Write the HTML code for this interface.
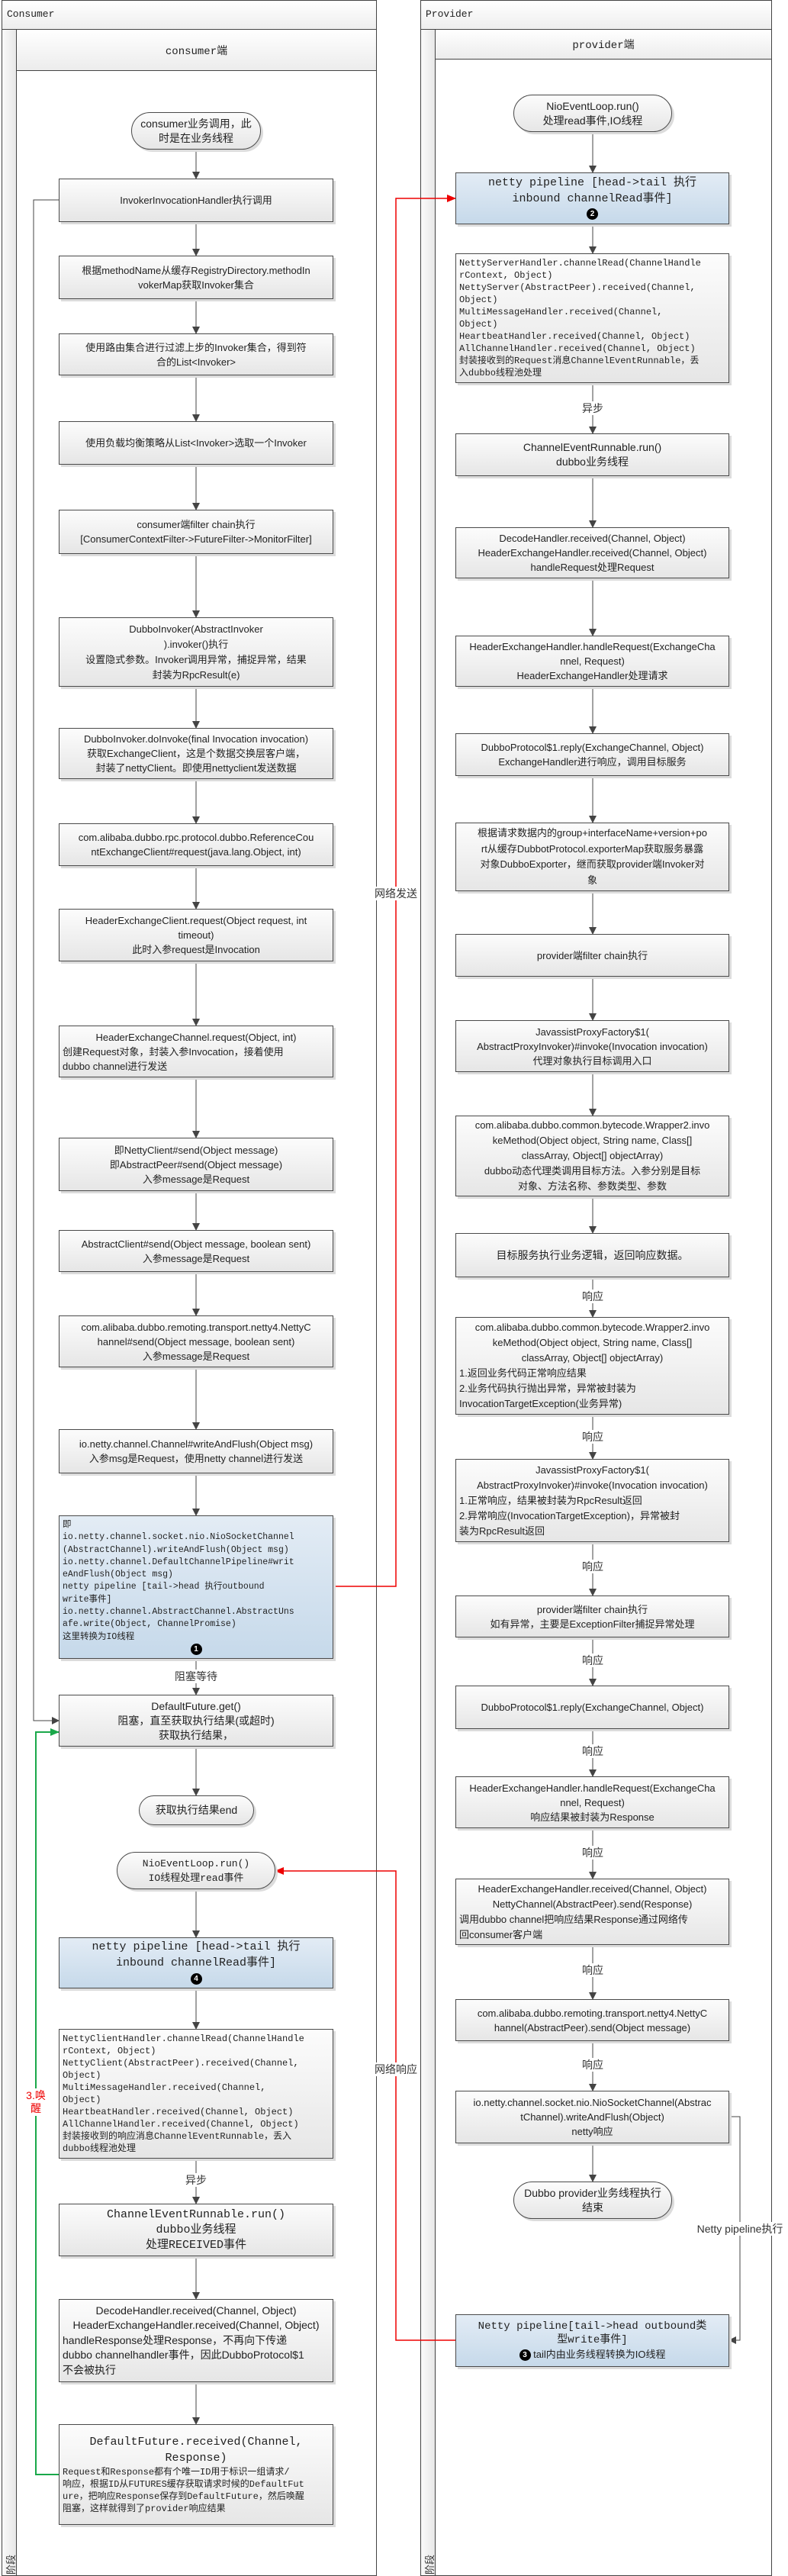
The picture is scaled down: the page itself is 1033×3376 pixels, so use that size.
<!DOCTYPE html>
<html><head><meta charset="utf-8">
<style>
*{margin:0;padding:0;box-sizing:border-box}
body{width:1033px;height:3376px;position:relative;background:#fff;font-family:"Liberation Sans","Noto Sans CJK SC",sans-serif;color:#222;overflow:hidden}
.frame{position:absolute;border:1px solid #444;background:#fff}
.hd{position:absolute;left:0;right:0;top:0;height:38px;border-bottom:1px solid #444;background:linear-gradient(#fff,#eee);font:13px "Liberation Mono","Noto Sans CJK SC",monospace;padding:10px 0 0 6px}
.strip{position:absolute;left:0;width:19px;background:linear-gradient(90deg,#fafafa,#e8e8e8);border-right:1px solid #444}
.lh{position:absolute;right:0;border-bottom:1px solid #444;background:linear-gradient(#fff,#ececec);font:14px "Liberation Mono","Noto Sans CJK SC",monospace;display:flex;align-items:center;justify-content:center}
.b{position:absolute;border:1px solid #4a4a4a;background:linear-gradient(#fcfcfc,#e6e6e6);box-shadow:3px 3px 0 #dcdcdc;display:flex;flex-direction:column;justify-content:center;font-size:13px;line-height:19px;text-align:center;white-space:nowrap;overflow:hidden;padding:0 4px}
.blue{background:linear-gradient(#e3ecf5,#c6d9ea)}
.t{border-radius:26px}
.m{font-family:"Liberation Mono","Noto Sans CJK SC",monospace;font-size:12px;line-height:16px;text-align:left}
.big{font-family:"Liberation Mono","Noto Sans CJK SC",monospace;font-size:15px;line-height:21px}
.l{text-align:left}
.badge{display:inline-block;width:15px;height:15px;border-radius:50%;background:#000;color:#fff;font:bold 10px/15px "Liberation Sans",sans-serif;text-align:center;vertical-align:middle}
.lab{position:absolute;background:#fff;font-size:14px;line-height:16px;color:#333;transform:translate(-50%,-50%);white-space:nowrap;padding:1px 0}
.vt{position:absolute;font-size:13px;transform:rotate(-90deg);transform-origin:left top;color:#333}
</style></head><body>

<!-- Consumer frame -->
<div class="frame" style="left:2px;top:0;width:492px;height:3376px">
  <div class="hd">Consumer</div>
  <div class="strip" style="top:38px;bottom:0"></div>
  <div class="lh" style="left:19px;top:38px;height:54px">consumer端</div>
</div>
<div class="vt" style="left:4px;top:3374px">阶段</div>

<!-- Provider frame -->
<div class="frame" style="left:551px;top:0;width:461px;height:3376px">
  <div class="hd">Provider</div>
  <div class="strip" style="top:38px;bottom:0"></div>
  <div class="lh" style="left:19px;top:38px;height:39px">provider端</div>
</div>
<div class="vt" style="left:553px;top:3374px">阶段</div>

<!-- Connectors -->
<svg width="1033" height="3376" style="position:absolute;left:0;top:0">
<defs>
<marker id="a" markerWidth="10" markerHeight="10" refX="9" refY="5" orient="auto" markerUnits="userSpaceOnUse"><path d="M0,0 L10,5 L0,10 z" fill="#444"/></marker>
<marker id="r" markerWidth="12" markerHeight="10" refX="11" refY="5" orient="auto" markerUnits="userSpaceOnUse"><path d="M0,0 L12,5 L0,10 z" fill="#e00"/></marker>
<marker id="g" markerWidth="12" markerHeight="10" refX="11" refY="5" orient="auto" markerUnits="userSpaceOnUse"><path d="M0,0 L12,5 L0,10 z" fill="#1aa84a"/></marker>
</defs>
<g stroke="#444" stroke-width="1" fill="none" marker-end="url(#a)">
<path d="M257,196V234"/><path d="M257,291V335"/><path d="M257,392V437"/><path d="M257,492V552"/>
<path d="M257,609V668"/><path d="M257,726V809"/><path d="M257,900V954"/><path d="M257,1021V1079"/>
<path d="M257,1135V1191"/><path d="M257,1260V1344"/><path d="M257,1412V1491"/><path d="M257,1561V1612"/>
<path d="M257,1667V1724"/><path d="M257,1792V1873"/><path d="M257,1931V1986"/><path d="M257,2174V2221"/>
<path d="M257,2289V2353"/><path d="M257,2476V2539"/><path d="M257,2606V2659"/><path d="M257,2829V2888"/>
<path d="M257,2957V3013"/><path d="M257,3122V3177"/>
<path d="M77,262H44V2255H77"/>
<path d="M777,173V226"/><path d="M777,294V332"/><path d="M777,502V568"/><path d="M777,624V691"/>
<path d="M777,758V833"/><path d="M777,900V961"/><path d="M777,1017V1078"/><path d="M777,1168V1224"/>
<path d="M777,1280V1337"/><path d="M777,1405V1462"/><path d="M777,1568V1616"/><path d="M777,1674V1726"/>
<path d="M777,1854V1912"/><path d="M777,2021V2091"/><path d="M777,2146V2209"/><path d="M777,2266V2328"/>
<path d="M777,2396V2462"/><path d="M777,2549V2620"/><path d="M777,2675V2740"/><path d="M777,2809V2859"/>
<path d="M956,2774H970V3067H956"/>
</g>
<g stroke="#e00" stroke-width="1.5" fill="none" marker-end="url(#r)">
<path d="M437,2079H519V260H597"/>
<path d="M597,3067H519V2452H361"/>
</g>
<path d="M77,3243H47V2270H77" stroke="#1aa84a" stroke-width="2" fill="none" marker-end="url(#g)"/>
</svg>

<div class="lab" style="left:519px;top:1171px">网络发送</div>
<div class="lab" style="left:519px;top:2712px">网络响应</div>
<div class="lab" style="left:47px;top:2755px;color:#e00;text-align:center;line-height:17px">3.唤<br>醒</div>
<div class="lab" style="left:257px;top:2197px">阻塞等待</div>
<div class="lab" style="left:257px;top:2857px">异步</div>
<div class="lab" style="left:777px;top:535px">异步</div>
<div class="lab" style="left:777px;top:1699px">响应</div>
<div class="lab" style="left:777px;top:1883px">响应</div>
<div class="lab" style="left:777px;top:2053px">响应</div>
<div class="lab" style="left:777px;top:2176px">响应</div>
<div class="lab" style="left:777px;top:2295px">响应</div>
<div class="lab" style="left:777px;top:2428px">响应</div>
<div class="lab" style="left:777px;top:2582px">响应</div>
<div class="lab" style="left:777px;top:2706px">响应</div>
<div class="lab" style="left:970px;top:2921px">Netty pipeline执行</div>

<!-- Consumer boxes -->
<div class="b t" style="left:172px;top:147px;width:170px;height:49px;font-size:14px">consumer业务调用，此<br>时是在业务线程</div>
<div class="b" style="left:77px;top:234px;width:360px;height:57px">InvokerInvocationHandler执行调用</div>
<div class="b" style="left:77px;top:335px;width:360px;height:57px">根据methodName从缓存RegistryDirectory.methodIn<br>vokerMap获取Invoker集合</div>
<div class="b" style="left:77px;top:437px;width:360px;height:55px">使用路由集合进行过滤上步的Invoker集合，得到符<br>合的List&lt;Invoker&gt;</div>
<div class="b" style="left:77px;top:552px;width:360px;height:57px">使用负载均衡策略从List&lt;Invoker&gt;选取一个Invoker</div>
<div class="b" style="left:77px;top:668px;width:360px;height:58px">consumer端filter chain执行<br>[ConsumerContextFilter-&gt;FutureFilter-&gt;MonitorFilter]</div>
<div class="b" style="left:77px;top:809px;width:360px;height:91px;line-height:20px">DubboInvoker(AbstractInvoker<br>).invoker()执行<br>设置隐式参数。Invoker调用异常，捕捉异常，结果<br>封装为RpcResult(e)</div>
<div class="b" style="left:77px;top:954px;width:360px;height:67px">DubboInvoker.doInvoke(final Invocation invocation)<br>获取ExchangeClient，这是个数据交换层客户端，<br>封装了nettyClient。即使用nettyclient发送数据</div>
<div class="b" style="left:77px;top:1079px;width:360px;height:56px">com.alibaba.dubbo.rpc.protocol.dubbo.ReferenceCou<br>ntExchangeClient#request(java.lang.Object, int)</div>
<div class="b" style="left:77px;top:1191px;width:360px;height:69px">HeaderExchangeClient.request(Object request, int<br>timeout)<br>此时入参request是Invocation</div>
<div class="b" style="left:77px;top:1344px;width:360px;height:68px"><div>HeaderExchangeChannel.request(Object, int)</div><div class="l">创建Request对象，封装入参Invocation，接着使用<br>dubbo channel进行发送</div></div>
<div class="b" style="left:77px;top:1491px;width:360px;height:70px">即NettyClient#send(Object message)<br>即AbstractPeer#send(Object message)<br>入参message是Request</div>
<div class="b" style="left:77px;top:1612px;width:360px;height:55px">AbstractClient#send(Object message, boolean sent)<br>入参message是Request</div>
<div class="b" style="left:77px;top:1724px;width:360px;height:68px">com.alibaba.dubbo.remoting.transport.netty4.NettyC<br>hannel#send(Object message, boolean sent)<br>入参message是Request</div>
<div class="b" style="left:77px;top:1873px;width:360px;height:58px">io.netty.channel.Channel#writeAndFlush(Object msg)<br>入参msg是Request，使用netty channel进行发送</div>
<div class="b blue m" style="left:77px;top:1986px;width:360px;height:188px;justify-content:flex-start;padding-top:4px;font-size:11.5px;line-height:16.3px">即<br>io.netty.channel.socket.nio.NioSocketChannel<br>(AbstractChannel).writeAndFlush(Object msg)<br>io.netty.channel.DefaultChannelPipeline#writ<br>eAndFlush(Object msg)<br>netty pipeline [tail-&gt;head 执行outbound<br>write事件]<br>io.netty.channel.AbstractChannel.AbstractUns<br>afe.write(Object, ChannelPromise)<br>这里转换为IO线程<div style="text-align:center"><span class="badge">1</span></div></div>
<div class="b" style="left:77px;top:2221px;width:360px;height:68px;font-size:14px">DefaultFuture.get()<br>阻塞，直至获取执行结果(或超时)<br>获取执行结果，</div>
<div class="b t" style="left:182px;top:2353px;width:151px;height:39px;font-size:14px">获取执行结果end</div>
<div class="b t big" style="left:153px;top:2427px;width:208px;height:49px;font-size:13px;line-height:19px">NioEventLoop.run()<br>IO线程处理read事件</div>
<div class="b blue big" style="left:77px;top:2539px;width:360px;height:67px">netty pipeline [head-&gt;tail 执行<br>inbound channelRead事件]<div><span class="badge">4</span></div></div>
<div class="b m" style="left:77px;top:2659px;width:360px;height:170px">NettyClientHandler.channelRead(ChannelHandle<br>rContext, Object)<br>NettyClient(AbstractPeer).received(Channel,<br>Object)<br>MultiMessageHandler.received(Channel,<br>Object)<br>HeartbeatHandler.received(Channel, Object)<br>AllChannelHandler.received(Channel, Object)<br>封装接收到的响应消息ChannelEventRunnable，丢入<br>dubbo线程池处理</div>
<div class="b big" style="left:77px;top:2888px;width:360px;height:69px;line-height:20px">ChannelEventRunnable.run()<br>dubbo业务线程<br>处理RECEIVED事件</div>
<div class="b" style="left:77px;top:3013px;width:360px;height:109px;font-size:14px;line-height:19.5px"><div>DecodeHandler.received(Channel, Object)<br>HeaderExchangeHandler.received(Channel, Object)</div><div class="l">handleResponse处理Response，不再向下传递<br>dubbo channelhandler事件，因此DubboProtocol$1<br>不会被执行</div></div>
<div class="b" style="left:77px;top:3177px;width:360px;height:132px"><div class="big">DefaultFuture.received(Channel,<br>Response)</div><div class="m">Request和Response都有个唯一ID用于标识一组请求/<br>响应，根据ID从FUTURES缓存获取请求时候的DefaultFut<br>ure，把响应Response保存到DefaultFuture，然后唤醒<br>阻塞，这样就得到了provider响应结果</div></div>

<!-- Provider boxes -->
<div class="b t" style="left:673px;top:124px;width:208px;height:49px;font-size:14px">NioEventLoop.run()<br>处理read事件,IO线程</div>
<div class="b blue big" style="left:597px;top:226px;width:359px;height:68px">netty pipeline [head-&gt;tail 执行<br>inbound channelRead事件]<div><span class="badge">2</span></div></div>
<div class="b m" style="left:597px;top:332px;width:359px;height:170px">NettyServerHandler.channelRead(ChannelHandle<br>rContext, Object)<br>NettyServer(AbstractPeer).received(Channel,<br>Object)<br>MultiMessageHandler.received(Channel,<br>Object)<br>HeartbeatHandler.received(Channel, Object)<br>AllChannelHandler.received(Channel, Object)<br>封装接收到的Request消息ChannelEventRunnable，丢<br>入dubbo线程池处理</div>
<div class="b" style="left:597px;top:568px;width:359px;height:56px;font-size:14px">ChannelEventRunnable.run()<br>dubbo业务线程</div>
<div class="b" style="left:597px;top:691px;width:359px;height:67px">DecodeHandler.received(Channel, Object)<br>HeaderExchangeHandler.received(Channel, Object)<br>handleRequest处理Request</div>
<div class="b" style="left:597px;top:833px;width:359px;height:67px">HeaderExchangeHandler.handleRequest(ExchangeCha<br>nnel, Request)<br>HeaderExchangeHandler处理请求</div>
<div class="b" style="left:597px;top:961px;width:359px;height:56px">DubboProtocol$1.reply(ExchangeChannel, Object)<br>ExchangeHandler进行响应，调用目标服务</div>
<div class="b" style="left:597px;top:1078px;width:359px;height:90px;line-height:20.5px">根据请求数据内的group+interfaceName+version+po<br>rt从缓存DubbotProtocol.exporterMap获取服务暴露<br>对象DubboExporter，继而获取provider端Invoker对<br>象</div>
<div class="b" style="left:597px;top:1224px;width:359px;height:56px">provider端filter chain执行</div>
<div class="b" style="left:597px;top:1337px;width:359px;height:68px">JavassistProxyFactory$1(<br>AbstractProxyInvoker)#invoke(Invocation invocation)<br>代理对象执行目标调用入口</div>
<div class="b" style="left:597px;top:1462px;width:359px;height:106px;line-height:20px">com.alibaba.dubbo.common.bytecode.Wrapper2.invo<br>keMethod(Object object, String name, Class[]<br>classArray, Object[] objectArray)<br>dubbo动态代理类调用目标方法。入参分别是目标<br>对象、方法名称、参数类型、参数</div>
<div class="b" style="left:597px;top:1616px;width:359px;height:58px;font-size:14px">目标服务执行业务逻辑，返回响应数据。</div>
<div class="b" style="left:597px;top:1726px;width:359px;height:128px;line-height:20px"><div>com.alibaba.dubbo.common.bytecode.Wrapper2.invo<br>keMethod(Object object, String name, Class[]<br>classArray, Object[] objectArray)</div><div class="l">1.返回业务代码正常响应结果<br>2.业务代码执行抛出异常，异常被封装为<br>InvocationTargetException(业务异常)</div></div>
<div class="b" style="left:597px;top:1912px;width:359px;height:109px;line-height:20px"><div>JavassistProxyFactory$1(<br>AbstractProxyInvoker)#invoke(Invocation invocation)</div><div class="l">1.正常响应，结果被封装为RpcResult返回<br>2.异常响应(InvocationTargetException)，异常被封<br>装为RpcResult返回</div></div>
<div class="b" style="left:597px;top:2091px;width:359px;height:55px">provider端filter chain执行<br>如有异常，主要是ExceptionFilter捕捉异常处理</div>
<div class="b" style="left:597px;top:2209px;width:359px;height:57px">DubboProtocol$1.reply(ExchangeChannel, Object)</div>
<div class="b" style="left:597px;top:2328px;width:359px;height:68px">HeaderExchangeHandler.handleRequest(ExchangeCha<br>nnel, Request)<br>响应结果被封装为Response</div>
<div class="b" style="left:597px;top:2462px;width:359px;height:87px;line-height:20px"><div>HeaderExchangeHandler.received(Channel, Object)<br>NettyChannel(AbstractPeer).send(Response)</div><div class="l">调用dubbo channel把响应结果Response通过网络传<br>回consumer客户端</div></div>
<div class="b" style="left:597px;top:2620px;width:359px;height:55px">com.alibaba.dubbo.remoting.transport.netty4.NettyC<br>hannel(AbstractPeer).send(Object message)</div>
<div class="b" style="left:597px;top:2740px;width:359px;height:69px">io.netty.channel.socket.nio.NioSocketChannel(Abstrac<br>tChannel).writeAndFlush(Object)<br>netty响应</div>
<div class="b t" style="left:673px;top:2859px;width:208px;height:49px;font-size:14px">Dubbo provider业务线程执行<br>结束</div>
<div class="b blue" style="left:597px;top:3033px;width:359px;height:69px"><div class="big" style="font-size:14px;line-height:18px">Netty pipeline[tail-&gt;head outbound类<br>型write事件]</div><div><span class="badge">3</span> tail内由业务线程转换为IO线程</div></div>

</body></html>
